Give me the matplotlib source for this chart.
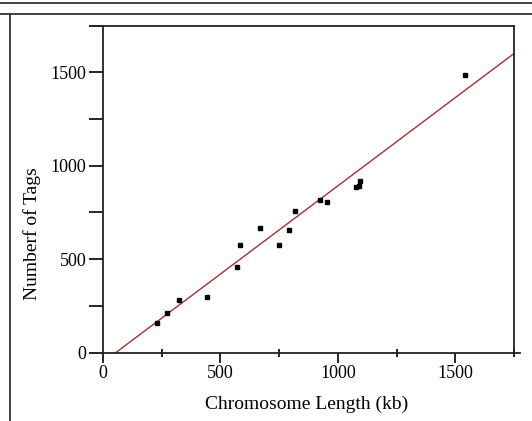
import numpy as np
import matplotlib
matplotlib.use('Agg')
import matplotlib.pyplot as plt
from matplotlib.lines import Line2D
from matplotlib.ticker import MultipleLocator

# chromosome length (kb) vs number of tags
chrom_len = [230, 274, 322, 441, 569, 584, 669, 748, 790, 817,
             923, 952, 1078, 1091, 1094, 1540]
n_tags = [156, 210, 281, 298, 459, 575, 664, 575, 655, 759,
          816, 806, 885, 893, 920, 1484]

# regression line as drawn in the picture
fit_slope = 0.944
fit_intercept = -52

x_ticks = [0, 500, 1000, 1500]
y_ticks = [0, 500, 1000, 1500]

W, H = 532, 421
plt.rcParams['font.family'] = ['Liberation Serif', 'DejaVu Serif']

fig = plt.figure(figsize=(W / 100, H / 100), dpi=100)
ax = fig.add_axes([103 / W, 1 - 352.5 / H, 411 / W, 327 / H])

xs = np.array([0, 1750])
ax.plot(xs, fit_slope * xs + fit_intercept, color='#9e3232', lw=1.0,
        zorder=2)
ax.plot(chrom_len, n_tags, linestyle='', marker='s', markersize=2.2,
        color='black', zorder=3)

ax.set_xlim(0, 1750)
ax.set_ylim(0, 1750)
ax.set_xticks(x_ticks)
ax.set_yticks(y_ticks)
ax.xaxis.set_minor_locator(MultipleLocator(250))
ax.yaxis.set_minor_locator(MultipleLocator(250))
ax.tick_params(axis='x', which='major', direction='out', length=7,
               width=1.2, pad=2, labelsize=13)
ax.tick_params(axis='x', which='minor', direction='inout', length=6,
               width=1.2)
ax.tick_params(axis='y', which='both', direction='out', length=10,
               width=1.2, pad=2, labelsize=13)

for s in ax.spines.values():
    s.set_linewidth(1.3)
    s.set_color('#222222')
ax.spines['top'].set_visible(False)
# top spine runs a bit left of the y axis, bottom spine past the right one
ax.add_line(Line2D([-0.024, 1.0], [1, 1], transform=ax.transAxes,
                   color='#222222', lw=1.3, clip_on=False))
ax.add_line(Line2D([1.0, 1.015], [0, 0], transform=ax.transAxes,
                   color='#222222', lw=1.3, clip_on=False))
ax.add_line(Line2D([1, 1], [0, -0.008], transform=ax.transAxes,
                   color='#222222', lw=1.3, clip_on=False))

fig.text(307 / W, 1 - 404 / H, 'Chromosome Length (kb)', ha='center',
         va='center', fontsize=14)
fig.text(32 / W, 1 - 234 / H, 'Numberf of Tags', ha='center',
         va='center', rotation=90, fontsize=14)

# outer frame lines of the screenshot
for yy in (3, 13.5):
    fig.add_artist(Line2D([0, 1], [1 - yy / H] * 2, color='#333333',
                          lw=1.3))
fig.add_artist(Line2D([10 / W] * 2, [0, 1 - 13.5 / H], color='#333333',
                      lw=1.3))

fig.savefig('out.png', dpi=100, facecolor='white')
